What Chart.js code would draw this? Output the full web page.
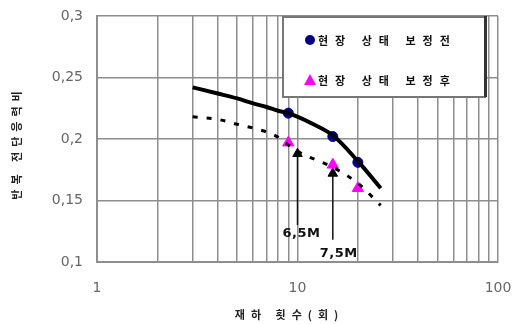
<!DOCTYPE html>
<html><head><meta charset="utf-8">
<script src="https://cdn.jsdelivr.net/npm/chart.js@4/dist/chart.umd.min.js"></script>
<style>html,body{margin:0;padding:0;background:#fff}#wrap{width:512px;height:324px}</style>
</head><body><div id="wrap"><canvas id="c" width="512" height="324"></canvas></div>
<script>
// ---- data ----
const seriesNames = ['현장 상태 보정전', '현장 상태 보정후'];
const cyclesMeasured = [9, 15, 20];
const ratioBefore = [0.221, 0.202, 0.181];
const ratioAfter = [0.197, 0.179, 0.160];

const trendBeforeX = [3, 4, 5, 6, 7, 8, 9, 12, 15, 20, 26];
const trendBeforeY = [0.242, 0.237, 0.233, 0.229, 0.226, 0.223, 0.221, 0.212, 0.203, 0.182, 0.160];
const trendAfterX = [3, 4, 5, 6.3, 7.7, 10, 15, 20, 26];
const trendAfterY = [0.218, 0.216, 0.212, 0.208, 0.203, 0.190, 0.177, 0.164, 0.146];

const markX = [10, 15];
const markTopY = [0.188, 0.172];
const markBottomY = [0.130, 0.118];
const markLabels = ['6,5M', '7,5M'];

const xTickValues = [1,2,3,4,5,6,7,8,9,10,20,30,40,50,60,70,80,90,100];
const xTickLabelled = [1, 10, 100];
const yTickValues = [0.1, 0.15, 0.2, 0.25, 0.3];
const yTickLabels = ['0,1', '0,15', '0,2', '0,25', '0,3'];
const xTitle = '재하 횟수(회)';
const yTitle = '반복 전단응력비';

const pts = (xs, ys) => xs.map((x, i) => ({x, y: ys[i]}));
const GRID = '#8e8e8e';

const datasets = [
  {label: 'trendBefore', data: pts(trendBeforeX, trendBeforeY), showLine: true, borderColor: '#000', borderWidth: 4, pointRadius: 0, cubicInterpolationMode: 'monotone'},
  {label: 'trendAfter', data: pts(trendAfterX, trendAfterY), showLine: true, borderColor: '#000', borderWidth: 3, borderDash: [5, 9], pointRadius: 0, cubicInterpolationMode: 'monotone'},
  ...markX.map((x, i) => ({label: 'mark' + i, data: [{x, y: markTopY[i]}, {x, y: markBottomY[i]}], showLine: true, borderColor: '#111', borderWidth: 1.5, pointRadius: 0})),
  {label: seriesNames[0], data: pts(cyclesMeasured, ratioBefore), pointStyle: 'circle', pointRadius: 5, backgroundColor: '#00008b', borderColor: '#00008b', showLine: false},
  {label: seriesNames[1], data: pts(cyclesMeasured, ratioAfter), pointStyle: 'triangle', pointRadius: 6.5, backgroundColor: '#ff00ff', borderColor: '#ff00ff', showLine: false},
  {label: 'marks', data: pts(markX, markTopY), pointStyle: 'triangle', pointRadius: 5.5, backgroundColor: '#000', borderColor: '#000', showLine: false}
];

const overlay = {
  id: 'overlay',
  afterDraw(chart) {
    const ctx = chart.ctx, ca = chart.chartArea;
    const xs = chart.scales.x, ys = chart.scales.y;
    ctx.save();
    // mark labels
    ctx.fillStyle = '#111';
    ctx.font = 'bold 13px "DejaVu Sans"';
    ctx.letterSpacing = '0.5px';
    ctx.textAlign = 'center';
    ctx.textBaseline = 'top';
    markLabels.forEach((t, i) => {
      const px = xs.getPixelForValue(markX[i]);
      const py = ys.getPixelForValue(markBottomY[i]);
      ctx.fillText(t, px + 4 + i * 2, py + 2 + i * 5);
    });
    // legend box
    const w = 202, h = 81;
    const lx = ca.right - 13 - w, ly = ca.top;
    ctx.fillStyle = '#fff';
    ctx.fillRect(lx, ly, w, h);
    ctx.strokeStyle = '#777';
    ctx.lineWidth = 2;
    ctx.strokeRect(lx, ly + 1, w, h - 1);
    ctx.fillStyle = '#333';
    ctx.fillRect(lx + w - 1, ly, 3, h);
    const legendSets = [chart.data.datasets[4], chart.data.datasets[5]];
    ctx.font = 'bold 11px "Noto Sans CJK KR"';
    ctx.letterSpacing = '7px';
    ctx.textAlign = 'left';
    ctx.textBaseline = 'middle';
    legendSets.forEach((ds, i) => {
      const cy = ly + 24 + i * 40;
      const cx = lx + 27;
      ctx.fillStyle = ds.backgroundColor;
      ctx.beginPath();
      if (ds.pointStyle === 'circle') {
        ctx.arc(cx, cy, 5, 0, Math.PI * 2);
      } else {
        ctx.moveTo(cx, cy - 6); ctx.lineTo(cx + 6, cy + 5); ctx.lineTo(cx - 6, cy + 5); ctx.closePath();
      }
      ctx.fill();
      ctx.fillStyle = '#111';
      ctx.fillText(ds.label, cx + 8, cy + 1);
    });
    // axis titles
    ctx.fillStyle = '#222';
    ctx.font = 'bold 11px "Noto Sans CJK KR"';
    ctx.letterSpacing = '6px';
    ctx.textAlign = 'center';
    ctx.fillText(xTitle, (ca.left + ca.right) / 2 - 8, 315);
    ctx.translate(17, (ca.top + ca.bottom) / 2 + 4);
    ctx.rotate(-Math.PI / 2);
    ctx.letterSpacing = '5px';
    ctx.fillText(yTitle, 0, 0);
    ctx.restore();
  }
};

new Chart(document.getElementById('c'), {
  type: 'scatter',
  data: {datasets},
  options: {
    responsive: false,
    animation: false,
    devicePixelRatio: 1,
    layout: {padding: {top: 16, right: 14, left: 0, bottom: 0}},
    plugins: {legend: {display: false}, tooltip: {enabled: false}},
    scales: {
      x: {
        type: 'logarithmic', min: 1, max: 100,
        afterBuildTicks(s) { s.ticks = xTickValues.map(v => ({value: v})); },
        afterFit(s) { s.height = 62; s.paddingLeft = 0; s.paddingRight = 0; },
        grid: {color: GRID, lineWidth: 1.5, drawTicks: false},
        border: {color: GRID, width: 2},
        ticks: {
          autoSkip: false, maxRotation: 0, padding: 18, color: '#666',
          font: {family: 'DejaVu Sans', size: 14},
          callback: (v) => xTickLabelled.includes(v) ? String(v) : ''
        }
      },
      y: {
        min: 0.1, max: 0.3,
        afterBuildTicks(s) { s.ticks = yTickValues.map(v => ({value: v})); },
        afterFit(s) { s.width = 97; s.paddingTop = 0; s.paddingBottom = 0; },
        grid: {color: GRID, lineWidth: 1.5, drawTicks: false},
        border: {color: GRID, width: 2},
        ticks: {
          padding: 14, color: '#666',
          font: {family: 'DejaVu Sans', size: 14},
          callback: (v, i) => yTickLabels[i]
        }
      }
    }
  },
  plugins: [overlay]
});
</script></body></html>
